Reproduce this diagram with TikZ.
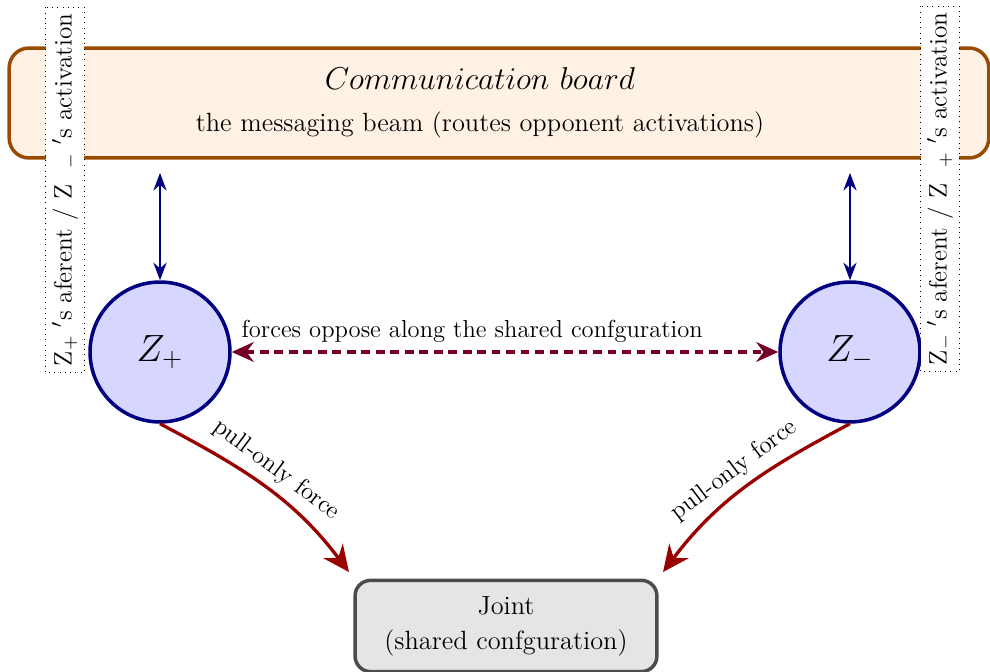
\documentclass[tikz,border=0pt]{standalone}
\usepackage{amsmath}
\usetikzlibrary{arrows.meta,positioning,shapes}
\tikzset{
board/.style = {draw=orange!60!black, fill=orange!10, line width=1.6pt, rounded corners=9pt, minimum width=15.68cm, minimum height=1.76cm},
unit/.style  = {draw=blue!50!black, fill=blue!16, circle, line width=1.6pt, minimum size=2.24cm},
joint/.style = {draw=black!70, fill=black!10, line width=1.6pt, rounded corners=7pt, minimum width=4.83cm, minimum height=1.46cm, align=center},
tag/.style   = {draw, dotted, fill=white, rotate=90, inner sep=3pt, minimum height=0.62cm, font=\fontsize{11.5}{14}\selectfont},
lbl/.style   = {text=black, font=\fontsize{11.2}{13}\selectfont},
link/.style  = {{Stealth[length=8pt,width=6pt]}-{Stealth[length=8pt,width=6pt]}, blue!50!black, line width=1.1pt},
oppose/.style= {{Stealth[length=10pt,width=9pt]}-{Stealth[length=10pt,width=9pt]}, dash pattern=on 4pt off 2.6pt, purple!60!black, line width=1.5pt},
pull/.style  = {-{Stealth[length=12pt,width=11pt]}, red!60!black, line width=1.5pt}
}
\begin{document}
\begin{tikzpicture}[x=0.016cm, y=-0.016cm, font=\large]
  \useasboundingbox (0,0) rectangle (990,672);
  \node [board] (board) at (499,103) {};
  \node [align=center] (boardtxt) at (480,103) {{\Large $Communication\ board$}\\[5pt] the messaging beam (routes opponent activations)};
  \node [unit] (zp) at (160,352) {\LARGE $Z_+$};
  \node [unit] (zm) at (850,352) {\LARGE $Z_-$};
  \node [joint] (joint) at (506,626) {Joint\\[2pt] (shared confguration)};
  \node [tag] (tagp) at (65,190) {Z$_+$ $'$s aferent / Z \ $_-$ $'$s activation};
  \node [tag] (tagm) at (940,189) {Z$_-$ $'$s aferent / Z \ $_+$ $'$s activation};

  \draw [link, shorten <=6pt] (board.south -| zp.north) -- (zp.north);
  \draw [link, shorten <=6pt] (board.south -| zm.north) -- (zm.north);
  \draw [oppose] (zp.east) -- node [lbl, above, pos=0.44] {forces oppose along the shared confguration} (zm.west);
  \draw [pull] (zp.south) to [out=-28, in=127] node [lbl, above, sloped] {pull-only force} ([xshift=-2pt, yshift=3pt]joint.north west);
  \draw [pull] (zm.south) to [out=-152, in=53] node [lbl, above, sloped] {pull-only force} ([xshift=2pt, yshift=3pt]joint.north east);
\end{tikzpicture}
\end{document}
